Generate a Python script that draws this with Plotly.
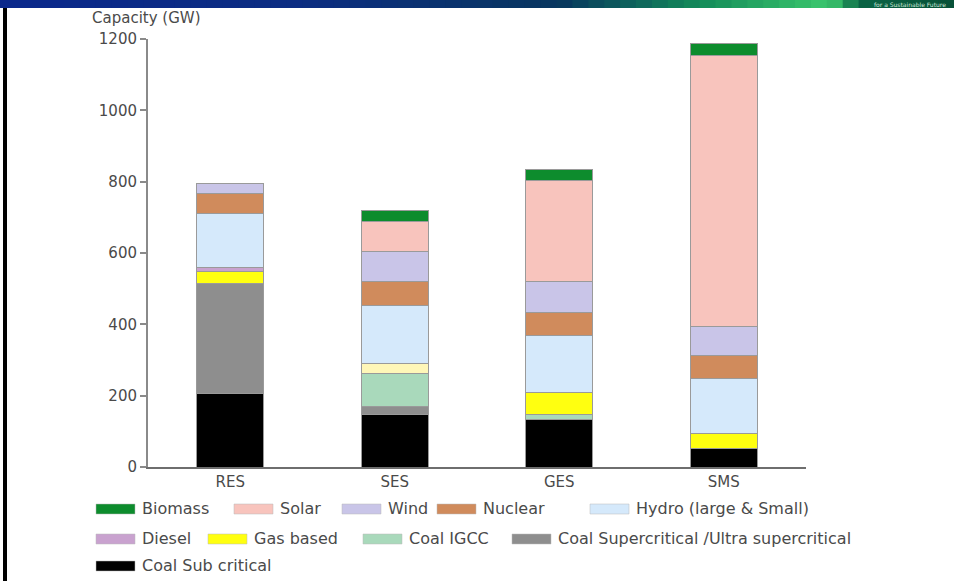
import plotly.graph_objects as go

W, H = 954, 581

# Installed capacity by scenario, GW
scenarios = ["RES", "SES", "GES", "SMS"]

coal_sub = [205, 146, 132, 52]
coal_super = [310, 23, 0, 0]
coal_igcc = [0, 94, 14, 0]
gas_based = [33, 28, 62, 42]
diesel = [10, 0, 0, 0]
hydro = [154, 163, 160, 154]
nuclear = [54, 65, 66, 65]
wind = [30, 84, 86, 82]
solar = [0, 84, 283, 759]
biomass = [0, 33, 32, 34]

y_ticks = [0, 200, 400, 600, 800, 1000, 1200]

# stacking order, bottom to top
series = [
    ("Coal Sub critical", coal_sub, "#000000"),
    ("Coal Supercritical /Ultra supercritical", coal_super, "#8e8e8e"),
    ("Coal IGCC", coal_igcc, "#a9d9bb"),
    ("Gas based", gas_based, ["#ffff10", "#fff7b8", "#ffff10", "#ffff10"]),
    ("Diesel", diesel, "#c9a2cf"),
    ("Hydro (large & Small)", hydro, "#d5e9fb"),
    ("Nuclear", nuclear, "#d08b5c"),
    ("Wind", wind, "#c9c5e8"),
    ("Solar", solar, "#f8c4bd"),
    ("Biomass", biomass, "#0d8c2d"),
]

FONT = "DejaVu Sans"
TXT = "#4a4a4a"

fig = go.Figure()
for name, vals, col in series:
    fig.add_trace(go.Bar(
        x=scenarios, y=vals, name=name,
        marker=dict(color=col, line=dict(color="#9a9a9a", width=1)),
        showlegend=False,
    ))

def px(x):
    return x / W

def py(y):
    return 1 - y / H

shapes = []
annotations = []

# header strip: blue fading to green
stops = [(0, (10, 40, 140)), (300, (12, 45, 130)), (560, (8, 55, 95)),
         (700, (20, 140, 90)), (830, (60, 200, 110)), (860, (10, 100, 70)),
         (954, (8, 80, 55))]
n = 60
for i in range(n):
    x0 = W * i / n
    x1 = W * (i + 1) / n
    xm = (x0 + x1) / 2
    for (a, ca), (b, cb) in zip(stops[:-1], stops[1:]):
        if a <= xm <= b:
            t = (xm - a) / (b - a)
            c = tuple(int(ca[k] + (cb[k] - ca[k]) * t) for k in range(3))
            break
    shapes.append(dict(type="rect", xref="paper", yref="paper",
                       x0=px(x0), x1=px(x1) + 0.001, y0=py(8), y1=1,
                       fillcolor="rgb(%d,%d,%d)" % c, line_width=0, layer="above"))
annotations.append(dict(text="for a Sustainable Future", xref="paper", yref="paper",
                        x=px(948), y=py(4), xanchor="right", yanchor="middle",
                        showarrow=False, font=dict(family=FONT, size=6, color="#cfe8d8")))

# left frame line
shapes.append(dict(type="rect", xref="paper", yref="paper",
                   x0=px(3), x1=px(7), y0=0, y1=py(8),
                   fillcolor="#000000", line_width=0, layer="above"))

# legend drawn as swatch + label rows
colors = {name: col for name, _, col in series}
legend_rows = [
    (509, [("Biomass", 96), ("Solar", 234), ("Wind", 342), ("Nuclear", 437),
           ("Hydro (large & Small)", 590)]),
    (539, [("Diesel", 96), ("Gas based", 208), ("Coal IGCC", 363),
           ("Coal Supercritical /Ultra supercritical", 512)]),
    (566, [("Coal Sub critical", 96)]),
]
for yc, items in legend_rows:
    for name, xs in items:
        col = colors[name]
        if isinstance(col, list):
            col = col[0]
        shapes.append(dict(type="rect", xref="paper", yref="paper",
                           x0=px(xs), x1=px(xs + 39), y0=py(yc + 5), y1=py(yc - 5),
                           fillcolor=col, line=dict(color="#b8b8b8", width=0.5)))
        annotations.append(dict(text=name, xref="paper", yref="paper",
                                x=px(xs + 44), y=py(yc - 1), xanchor="left", yanchor="middle",
                                showarrow=False,
                                font=dict(family=FONT, size=16, color=TXT)))

annotations.append(dict(text="Capacity (GW)", xref="paper", yref="paper",
                        x=px(90), y=py(18), xanchor="left", yanchor="middle",
                        showarrow=False, font=dict(family=FONT, size=15, color=TXT)))

fig.update_layout(
    width=W, height=H,
    margin=dict(l=0, r=0, t=0, b=0, pad=0),
    paper_bgcolor="white", plot_bgcolor="white",
    barmode="stack", bargap=0.59,
    shapes=shapes, annotations=annotations,
    xaxis=dict(domain=[px(148), px(806)], range=[-0.5, 3.5], automargin=False,
               showline=True, linecolor="#6e6e6e", linewidth=1.5,
               ticks="", showgrid=False, zeroline=False,
               tickfont=dict(family=FONT, size=15, color=TXT)),
    yaxis=dict(domain=[py(467), py(39)], range=[0, 1200], automargin=False,
               tickvals=y_ticks, ticktext=[str(v) for v in y_ticks],
               showline=True, linecolor="#8a8a8a", linewidth=2,
               ticks="outside", ticklen=6, tickwidth=1.5, tickcolor="#8a8a8a",
               showgrid=False, zeroline=False,
               tickfont=dict(family=FONT, size=15, color=TXT)),
    font=dict(family=FONT, color=TXT),
)

fig.write_html("out.html")
